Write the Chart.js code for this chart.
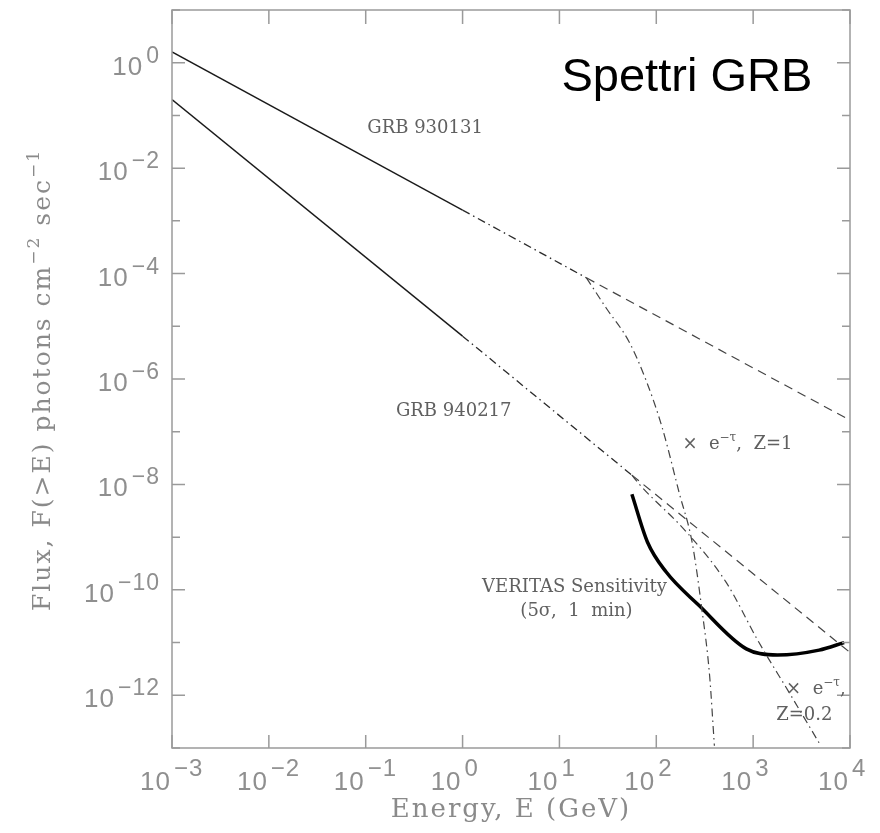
<!DOCTYPE html>
<html>
<head>
    <title>Spettri GRB</title>
    <script src="https://cdn.jsdelivr.net/npm/chart.js@4.4.0/dist/chart.umd.min.js"></script>
    <style>
        body { margin: 0; background: #fff; }
    </style>
</head>
<body>
    <canvas id="grbChart" width="880" height="833"></canvas>
<script>
    // energy E in GeV, flux F(>E) in photons cm^-2 sec^-1
    var grb930131SolidE = [0.001, 1];
    var grb930131SolidF = [1.6, 1.6e-3];
    var grb930131DashDotE = [1, 19];
    var grb930131DashDotF = [1.6e-3, 8.3e-5];
    var grb930131DashE = [19, 10000];
    var grb930131DashF = [8.3e-5, 1.65e-7];
    var cutZ1E = [19, 30.5, 52, 79, 115, 174, 234, 295, 355, 398];
    var cutZ1F = [8.3e-5, 2.2e-5, 5.2e-6, 9.1e-7, 1.2e-7, 6.5e-9, 8.1e-10, 4.4e-11, 2.4e-12, 1.1e-13];

    var grb940217SolidE = [0.001, 1];
    var grb940217SolidF = [0.2, 6.5e-6];
    var grb940217DashDotE = [1, 56];
    var grb940217DashDotF = [6.5e-6, 1.5e-8];
    var grb940217DashE = [56, 10000];
    var grb940217DashF = [1.5e-8, 6.5e-12];
    var cutZ02E = [56, 67, 204, 525, 1150, 2340, 5000];
    var cutZ02F = [1.5e-8, 1e-8, 1.26e-9, 1.4e-10, 1.0e-11, 1.15e-12, 1.1e-13];

    var veritasE = [56, 81, 126, 275, 850, 1780, 4800, 8700];
    var veritasF = [6.5e-9, 8.1e-10, 2.2e-10, 5.1e-11, 7.6e-12, 5.8e-12, 7.2e-12, 1.0e-11];

    var xTickExps = [-3, -2, -1, 0, 1, 2, 3, 4];
    var yTickExps = [0, -2, -4, -6, -8, -10, -12];

    // text notes placed in data coordinates [text parts, E, F, align]
    var notes = [
        [[['GRB 930131', 0]], 0.41, 0.06, 'center'],
        [[['GRB 940217', 0]], 0.81, 2.6e-7, 'center'],
        [[['\u00d7  e', 0], ['\u2212\u03c4', 1], [',  Z=1', 0]], 186, 6e-8, 'left'],
        [[['VERITAS Sensitivity', 0]], 14.3, 1.2e-10, 'center'],
        [[['(5\u03c3,  1  min)', 0]], 15, 4.1e-11, 'center'],
        [[['\u00d7  e', 0], ['\u2212\u03c4', 1], [',', 0]], 2190, 1.4e-12, 'left'],
        [[['Z=0.2', 0]], 1730, 4.5e-13, 'left']
    ];

    function pts(E, F) {
        return E.map(function (e, i) { return { x: e, y: F[i] }; });
    }

    var dashed = [9, 6];
    var dashDot = [8, 4, 1.5, 4];

    function serie(E, F, dash, width, color, smooth) {
        return {
            data: pts(E, F),
            borderColor: color || '#222',
            borderWidth: width || 1.3,
            borderDash: dash || [],
            pointRadius: 0,
            fill: false,
            cubicInterpolationMode: smooth ? 'monotone' : 'default',
            tension: 0
        };
    }

    function richWidth(ctx, parts, size, supSize) {
        var w = 0;
        parts.forEach(function (p) {
            ctx.font = (p[1] ? supSize : size) + 'px "DejaVu Serif"';
            w += ctx.measureText(p[0]).width;
        });
        return w;
    }

    function drawRich(ctx, parts, x, y, size, supSize, rise) {
        ctx.textAlign = 'left';
        parts.forEach(function (p) {
            ctx.font = (p[1] ? supSize : size) + 'px "DejaVu Serif"';
            ctx.fillText(p[0], x, p[1] ? y - rise : y);
            x += ctx.measureText(p[0]).width;
        });
    }

    function expText(n) {
        return n < 0 ? '\u2212' + (-n) : String(n);
    }

    var framePlugin = {
        id: 'frame',
        afterDatasetsDraw: function (chart) {
            var ctx = chart.ctx, a = chart.chartArea;
            var xs = chart.scales.x, ys = chart.scales.y;
            ctx.save();
            ctx.strokeStyle = '#9a9a9a';
            ctx.lineWidth = 1.5;
            ctx.setLineDash([]);
            ctx.strokeRect(a.left, a.top, a.right - a.left, a.bottom - a.top);

            ctx.beginPath();
            for (var p = -3; p <= 4; p++) {
                var px = xs.getPixelForValue(Math.pow(10, p));
                ctx.moveTo(px, a.bottom); ctx.lineTo(px, a.bottom - 13);
                ctx.moveTo(px, a.top); ctx.lineTo(px, a.top + 14);
            }
            for (var q = -13; q <= 1; q++) {
                var py = ys.getPixelForValue(Math.pow(10, q));
                var len = (q % 2 === 0) ? 13 : 8;
                ctx.moveTo(a.left, py); ctx.lineTo(a.left + len, py);
                ctx.moveTo(a.right, py); ctx.lineTo(a.right - len, py);
            }
            ctx.stroke();

            // tick labels 10^n
            ctx.fillStyle = '#8f8f8f';
            ctx.textBaseline = 'alphabetic';
            ctx.letterSpacing = '1px';
            xTickExps.forEach(function (n) {
                var px = xs.getPixelForValue(Math.pow(10, n));
                ctx.font = '26px "Liberation Sans"';
                ctx.textAlign = 'right';
                ctx.fillText('10', px - 1, a.bottom + 42);
                ctx.font = '24px "Liberation Sans"';
                ctx.textAlign = 'left';
                ctx.fillText(expText(n), px + 2, a.bottom + 28);
            });
            yTickExps.forEach(function (n) {
                var py = ys.getPixelForValue(Math.pow(10, n));
                ctx.font = '23px "Liberation Sans"';
                var ew = ctx.measureText(expText(n)).width;
                ctx.textAlign = 'right';
                ctx.fillText(expText(n), a.left - 12, py);
                ctx.font = '26px "Liberation Sans"';
                ctx.fillText('10', a.left - 15 - ew, py + 12);
            });

            // axis titles
            ctx.letterSpacing = '2px';
            ctx.fillStyle = '#8a8a8a';
            ctx.font = '26px "DejaVu Serif"';
            ctx.textAlign = 'center';
            ctx.fillText('Energy, E (GeV)', (a.left + a.right) / 2, a.bottom + 69);

            var yTitle = [['Flux, F(>E) photons cm', 0], ['\u22122', 1], [' sec', 0], ['\u22121', 1]];
            ctx.save();
            ctx.translate(50, (a.top + a.bottom) / 2 + 1);
            ctx.rotate(-Math.PI / 2);
            var tw = richWidth(ctx, yTitle, 25, 17);
            drawRich(ctx, yTitle, -tw / 2, 0, 25, 17, 11);
            ctx.restore();
            ctx.letterSpacing = '0px';

            // notes
            ctx.fillStyle = '#606060';
            notes.forEach(function (nt) {
                var x = xs.getPixelForValue(nt[1]);
                var y = ys.getPixelForValue(nt[2]) + 6;
                var w = richWidth(ctx, nt[0], 18, 12);
                var x0 = nt[3] === 'center' ? x - w / 2 : x;
                drawRich(ctx, nt[0], x0, y, 18, 12, 8);
            });

            // slide title
            ctx.fillStyle = '#000';
            ctx.font = '47px "Liberation Sans"';
            ctx.textAlign = 'left';
            ctx.fillText('Spettri GRB', xs.getPixelForValue(10.5), ys.getPixelForValue(0.29));
            ctx.restore();
        }
    };

    new Chart(document.getElementById('grbChart').getContext('2d'), {
        type: 'line',
        data: {
            datasets: [
                serie(grb930131SolidE, grb930131SolidF, [], 1.4, '#1a1a1a'),
                serie(grb930131DashDotE, grb930131DashDotF, dashDot, 1.3, '#2a2a2a'),
                serie(grb930131DashE, grb930131DashF, dashed, 1.2, '#444'),
                serie(cutZ1E, cutZ1F, dashDot, 1.2, '#444', true),
                serie(grb940217SolidE, grb940217SolidF, [], 1.4, '#1a1a1a'),
                serie(grb940217DashDotE, grb940217DashDotF, dashDot, 1.3, '#2a2a2a'),
                serie(grb940217DashE, grb940217DashF, dashed, 1.2, '#444'),
                serie(cutZ02E, cutZ02F, dashDot, 1.2, '#444', true),
                serie(veritasE, veritasF, [], 3.5, '#000', true)
            ]
        },
        options: {
            responsive: false,
            animation: false,
            layout: { padding: { left: 172, right: 30, top: 10, bottom: 85 } },
            plugins: { legend: { display: false }, tooltip: { enabled: false } },
            scales: {
                x: { type: 'logarithmic', min: 1e-3, max: 1e4, display: false },
                y: { type: 'logarithmic', min: 1e-13, max: 10, display: false }
            }
        },
        plugins: [framePlugin]
    });
</script>
</body>
</html>
